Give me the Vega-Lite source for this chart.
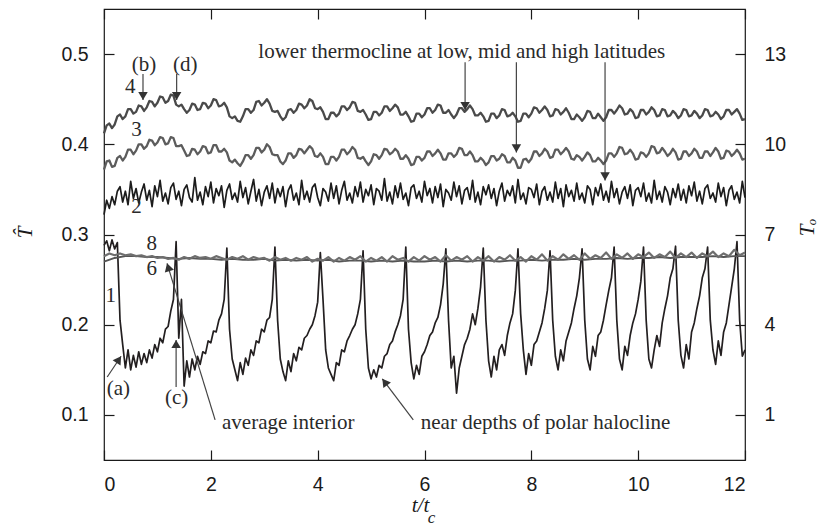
{
"$schema": "https://vega.github.io/schema/vega-lite/v6.json",
"width": 641, "height": 451,
"autosize": {"type": "none"},
"padding": {"left": 104, "top": 9, "right": 80, "bottom": 66},
"background": "white",
"config": {
 "view": {"stroke": "#1a1a1a", "strokeWidth": 1.2},
 "axis": {"grid": false, "domain": false, "tickColor": "#1a1a1a", "tickWidth": 1.2, "labelColor": "#1a1a1a", "labelFont": "Liberation Sans", "labelFontSize": 19.5, "titleColor": "#1a1a1a", "titleFont": "Liberation Serif", "titleFontSize": 21, "titleFontWeight": "normal", "titleFontStyle": "italic"}
},
"datasets": {
 "s1": [{"t":0,"v":0.288},{"t":0.05,"v":0.293},{"t":0.1,"v":0.282},{"t":0.15,"v":0.294},{"t":0.2,"v":0.284},{"t":0.25,"v":0.291},{"t":0.3,"v":0.205},{"t":0.35,"v":0.178},{"t":0.4,"v":0.152},{"t":0.45,"v":0.172},{"t":0.5,"v":0.15},{"t":0.55,"v":0.166},{"t":0.6,"v":0.153},{"t":0.65,"v":0.17},{"t":0.7,"v":0.156},{"t":0.75,"v":0.168},{"t":0.8,"v":0.158},{"t":0.85,"v":0.172},{"t":0.9,"v":0.163},{"t":0.95,"v":0.178},{"t":1,"v":0.17},{"t":1.05,"v":0.185},{"t":1.1,"v":0.18},{"t":1.15,"v":0.195},{"t":1.2,"v":0.198},{"t":1.25,"v":0.215},{"t":1.3,"v":0.228},{"t":1.35,"v":0.292},{"t":1.4,"v":0.185},{"t":1.45,"v":0.228},{"t":1.5,"v":0.132},{"t":1.55,"v":0.16},{"t":1.6,"v":0.142},{"t":1.65,"v":0.162},{"t":1.7,"v":0.15},{"t":1.75,"v":0.165},{"t":1.8,"v":0.156},{"t":1.85,"v":0.17},{"t":1.9,"v":0.168},{"t":1.95,"v":0.182},{"t":2,"v":0.18},{"t":2.05,"v":0.193},{"t":2.1,"v":0.192},{"t":2.15,"v":0.205},{"t":2.2,"v":0.212},{"t":2.25,"v":0.228},{"t":2.3,"v":0.285},{"t":2.35,"v":0.195},{"t":2.4,"v":0.162},{"t":2.45,"v":0.15},{"t":2.5,"v":0.138},{"t":2.55,"v":0.158},{"t":2.6,"v":0.145},{"t":2.65,"v":0.163},{"t":2.7,"v":0.155},{"t":2.75,"v":0.172},{"t":2.8,"v":0.166},{"t":2.85,"v":0.182},{"t":2.9,"v":0.18},{"t":2.95,"v":0.195},{"t":3,"v":0.192},{"t":3.05,"v":0.205},{"t":3.1,"v":0.208},{"t":3.15,"v":0.228},{"t":3.2,"v":0.286},{"t":3.25,"v":0.205},{"t":3.3,"v":0.162},{"t":3.35,"v":0.148},{"t":3.4,"v":0.138},{"t":3.45,"v":0.16},{"t":3.5,"v":0.148},{"t":3.55,"v":0.168},{"t":3.6,"v":0.16},{"t":3.65,"v":0.175},{"t":3.7,"v":0.172},{"t":3.75,"v":0.185},{"t":3.8,"v":0.188},{"t":3.85,"v":0.195},{"t":3.9,"v":0.2},{"t":3.95,"v":0.21},{"t":4,"v":0.225},{"t":4.05,"v":0.28},{"t":4.1,"v":0.228},{"t":4.15,"v":0.172},{"t":4.2,"v":0.152},{"t":4.25,"v":0.145},{"t":4.3,"v":0.138},{"t":4.35,"v":0.158},{"t":4.4,"v":0.155},{"t":4.45,"v":0.172},{"t":4.5,"v":0.17},{"t":4.55,"v":0.182},{"t":4.6,"v":0.188},{"t":4.65,"v":0.195},{"t":4.7,"v":0.2},{"t":4.75,"v":0.212},{"t":4.8,"v":0.228},{"t":4.85,"v":0.282},{"t":4.9,"v":0.195},{"t":4.95,"v":0.152},{"t":5,"v":0.14},{"t":5.05,"v":0.15},{"t":5.1,"v":0.142},{"t":5.15,"v":0.155},{"t":5.2,"v":0.152},{"t":5.25,"v":0.165},{"t":5.3,"v":0.168},{"t":5.35,"v":0.178},{"t":5.4,"v":0.182},{"t":5.45,"v":0.192},{"t":5.5,"v":0.2},{"t":5.55,"v":0.21},{"t":5.6,"v":0.228},{"t":5.65,"v":0.286},{"t":5.7,"v":0.195},{"t":5.75,"v":0.158},{"t":5.8,"v":0.14},{"t":5.85,"v":0.155},{"t":5.9,"v":0.145},{"t":5.95,"v":0.165},{"t":6,"v":0.17},{"t":6.05,"v":0.178},{"t":6.1,"v":0.188},{"t":6.15,"v":0.192},{"t":6.2,"v":0.202},{"t":6.25,"v":0.208},{"t":6.3,"v":0.222},{"t":6.35,"v":0.245},{"t":6.4,"v":0.284},{"t":6.45,"v":0.205},{"t":6.5,"v":0.152},{"t":6.55,"v":0.165},{"t":6.6,"v":0.124},{"t":6.65,"v":0.152},{"t":6.7,"v":0.165},{"t":6.75,"v":0.178},{"t":6.8,"v":0.185},{"t":6.85,"v":0.195},{"t":6.9,"v":0.212},{"t":6.95,"v":0.2},{"t":7,"v":0.218},{"t":7.05,"v":0.242},{"t":7.1,"v":0.285},{"t":7.15,"v":0.205},{"t":7.2,"v":0.16},{"t":7.25,"v":0.142},{"t":7.3,"v":0.165},{"t":7.35,"v":0.15},{"t":7.4,"v":0.172},{"t":7.45,"v":0.178},{"t":7.5,"v":0.166},{"t":7.55,"v":0.188},{"t":7.6,"v":0.202},{"t":7.65,"v":0.212},{"t":7.7,"v":0.238},{"t":7.75,"v":0.284},{"t":7.8,"v":0.212},{"t":7.85,"v":0.172},{"t":7.9,"v":0.145},{"t":7.95,"v":0.168},{"t":8,"v":0.155},{"t":8.05,"v":0.178},{"t":8.1,"v":0.182},{"t":8.15,"v":0.192},{"t":8.2,"v":0.202},{"t":8.25,"v":0.218},{"t":8.3,"v":0.238},{"t":8.35,"v":0.282},{"t":8.4,"v":0.205},{"t":8.45,"v":0.165},{"t":8.5,"v":0.15},{"t":8.55,"v":0.172},{"t":8.6,"v":0.16},{"t":8.65,"v":0.182},{"t":8.7,"v":0.192},{"t":8.75,"v":0.202},{"t":8.8,"v":0.218},{"t":8.85,"v":0.232},{"t":8.9,"v":0.252},{"t":8.95,"v":0.284},{"t":9,"v":0.205},{"t":9.05,"v":0.162},{"t":9.1,"v":0.15},{"t":9.15,"v":0.176},{"t":9.2,"v":0.165},{"t":9.25,"v":0.188},{"t":9.3,"v":0.192},{"t":9.35,"v":0.205},{"t":9.4,"v":0.222},{"t":9.45,"v":0.238},{"t":9.5,"v":0.252},{"t":9.55,"v":0.286},{"t":9.6,"v":0.205},{"t":9.65,"v":0.162},{"t":9.7,"v":0.15},{"t":9.75,"v":0.176},{"t":9.8,"v":0.166},{"t":9.85,"v":0.188},{"t":9.9,"v":0.202},{"t":9.95,"v":0.212},{"t":10,"v":0.228},{"t":10.05,"v":0.248},{"t":10.1,"v":0.286},{"t":10.15,"v":0.205},{"t":10.2,"v":0.162},{"t":10.25,"v":0.152},{"t":10.3,"v":0.172},{"t":10.35,"v":0.188},{"t":10.4,"v":0.176},{"t":10.45,"v":0.202},{"t":10.5,"v":0.218},{"t":10.55,"v":0.232},{"t":10.6,"v":0.252},{"t":10.65,"v":0.262},{"t":10.7,"v":0.287},{"t":10.75,"v":0.205},{"t":10.8,"v":0.166},{"t":10.85,"v":0.152},{"t":10.9,"v":0.178},{"t":10.95,"v":0.162},{"t":11,"v":0.192},{"t":11.05,"v":0.202},{"t":11.1,"v":0.218},{"t":11.15,"v":0.232},{"t":11.2,"v":0.252},{"t":11.25,"v":0.262},{"t":11.3,"v":0.286},{"t":11.35,"v":0.205},{"t":11.4,"v":0.172},{"t":11.45,"v":0.156},{"t":11.5,"v":0.182},{"t":11.55,"v":0.166},{"t":11.6,"v":0.192},{"t":11.65,"v":0.202},{"t":11.7,"v":0.222},{"t":11.75,"v":0.242},{"t":11.8,"v":0.262},{"t":11.85,"v":0.292},{"t":11.9,"v":0.205},{"t":11.95,"v":0.165},{"t":12,"v":0.172}],
 "s2": [{"t":0,"v":0.322},{"t":0.05,"v":0.338},{"t":0.1,"v":0.329},{"t":0.15,"v":0.342},{"t":0.2,"v":0.333},{"t":0.25,"v":0.348},{"t":0.3,"v":0.353},{"t":0.35,"v":0.336},{"t":0.4,"v":0.348},{"t":0.45,"v":0.333},{"t":0.5,"v":0.359},{"t":0.55,"v":0.34},{"t":0.6,"v":0.351},{"t":0.65,"v":0.335},{"t":0.7,"v":0.347},{"t":0.75,"v":0.356},{"t":0.8,"v":0.338},{"t":0.85,"v":0.349},{"t":0.9,"v":0.331},{"t":0.95,"v":0.354},{"t":1,"v":0.342},{"t":1.05,"v":0.36},{"t":1.1,"v":0.337},{"t":1.15,"v":0.346},{"t":1.2,"v":0.334},{"t":1.25,"v":0.352},{"t":1.3,"v":0.357},{"t":1.35,"v":0.339},{"t":1.4,"v":0.348},{"t":1.45,"v":0.332},{"t":1.5,"v":0.35},{"t":1.55,"v":0.355},{"t":1.6,"v":0.341},{"t":1.65,"v":0.336},{"t":1.7,"v":0.363},{"t":1.75,"v":0.338},{"t":1.8,"v":0.347},{"t":1.85,"v":0.333},{"t":1.9,"v":0.353},{"t":1.95,"v":0.342},{"t":2,"v":0.358},{"t":2.05,"v":0.335},{"t":2.1,"v":0.351},{"t":2.15,"v":0.343},{"t":2.2,"v":0.354},{"t":2.25,"v":0.33},{"t":2.3,"v":0.349},{"t":2.35,"v":0.356},{"t":2.4,"v":0.339},{"t":2.45,"v":0.346},{"t":2.5,"v":0.336},{"t":2.55,"v":0.359},{"t":2.6,"v":0.341},{"t":2.65,"v":0.352},{"t":2.7,"v":0.334},{"t":2.75,"v":0.348},{"t":2.8,"v":0.361},{"t":2.85,"v":0.337},{"t":2.9,"v":0.35},{"t":2.95,"v":0.332},{"t":3,"v":0.347},{"t":3.05,"v":0.354},{"t":3.1,"v":0.34},{"t":3.15,"v":0.357},{"t":3.2,"v":0.335},{"t":3.25,"v":0.351},{"t":3.3,"v":0.342},{"t":3.35,"v":0.353},{"t":3.4,"v":0.331},{"t":3.45,"v":0.349},{"t":3.5,"v":0.355},{"t":3.55,"v":0.338},{"t":3.6,"v":0.346},{"t":3.65,"v":0.333},{"t":3.7,"v":0.36},{"t":3.75,"v":0.339},{"t":3.8,"v":0.348},{"t":3.85,"v":0.336},{"t":3.9,"v":0.352},{"t":3.95,"v":0.356},{"t":4,"v":0.341},{"t":4.05,"v":0.332},{"t":4.1,"v":0.351},{"t":4.15,"v":0.347},{"t":4.2,"v":0.337},{"t":4.25,"v":0.357},{"t":4.3,"v":0.34},{"t":4.35,"v":0.354},{"t":4.4,"v":0.334},{"t":4.45,"v":0.349},{"t":4.5,"v":0.359},{"t":4.55,"v":0.338},{"t":4.6,"v":0.346},{"t":4.65,"v":0.335},{"t":4.7,"v":0.353},{"t":4.75,"v":0.342},{"t":4.8,"v":0.358},{"t":4.85,"v":0.336},{"t":4.9,"v":0.35},{"t":4.95,"v":0.343},{"t":5,"v":0.355},{"t":5.05,"v":0.333},{"t":5.1,"v":0.351},{"t":5.15,"v":0.348},{"t":5.2,"v":0.338},{"t":5.25,"v":0.362},{"t":5.3,"v":0.337},{"t":5.35,"v":0.347},{"t":5.4,"v":0.334},{"t":5.45,"v":0.354},{"t":5.5,"v":0.341},{"t":5.55,"v":0.357},{"t":5.6,"v":0.339},{"t":5.65,"v":0.346},{"t":5.7,"v":0.332},{"t":5.75,"v":0.352},{"t":5.8,"v":0.355},{"t":5.85,"v":0.34},{"t":5.9,"v":0.348},{"t":5.95,"v":0.336},{"t":6,"v":0.359},{"t":6.05,"v":0.343},{"t":6.1,"v":0.351},{"t":6.15,"v":0.335},{"t":6.2,"v":0.353},{"t":6.25,"v":0.341},{"t":6.3,"v":0.356},{"t":6.35,"v":0.331},{"t":6.4,"v":0.35},{"t":6.45,"v":0.346},{"t":6.5,"v":0.338},{"t":6.55,"v":0.358},{"t":6.6,"v":0.342},{"t":6.65,"v":0.354},{"t":6.7,"v":0.334},{"t":6.75,"v":0.349},{"t":6.8,"v":0.352},{"t":6.85,"v":0.339},{"t":6.9,"v":0.36},{"t":6.95,"v":0.336},{"t":7,"v":0.347},{"t":7.05,"v":0.333},{"t":7.1,"v":0.353},{"t":7.15,"v":0.344},{"t":7.2,"v":0.355},{"t":7.25,"v":0.34},{"t":7.3,"v":0.351},{"t":7.35,"v":0.332},{"t":7.4,"v":0.348},{"t":7.45,"v":0.357},{"t":7.5,"v":0.337},{"t":7.55,"v":0.349},{"t":7.6,"v":0.343},{"t":7.65,"v":0.354},{"t":7.7,"v":0.335},{"t":7.75,"v":0.361},{"t":7.8,"v":0.339},{"t":7.85,"v":0.346},{"t":7.9,"v":0.334},{"t":7.95,"v":0.352},{"t":8,"v":0.35},{"t":8.05,"v":0.341},{"t":8.1,"v":0.356},{"t":8.15,"v":0.333},{"t":8.2,"v":0.348},{"t":8.25,"v":0.353},{"t":8.3,"v":0.338},{"t":8.35,"v":0.347},{"t":8.4,"v":0.336},{"t":8.45,"v":0.358},{"t":8.5,"v":0.34},{"t":8.55,"v":0.351},{"t":8.6,"v":0.331},{"t":8.65,"v":0.355},{"t":8.7,"v":0.342},{"t":8.75,"v":0.349},{"t":8.8,"v":0.337},{"t":8.85,"v":0.357},{"t":8.9,"v":0.339},{"t":8.95,"v":0.346},{"t":9,"v":0.335},{"t":9.05,"v":0.354},{"t":9.1,"v":0.35},{"t":9.15,"v":0.333},{"t":9.2,"v":0.352},{"t":9.25,"v":0.343},{"t":9.3,"v":0.356},{"t":9.35,"v":0.338},{"t":9.4,"v":0.348},{"t":9.45,"v":0.336},{"t":9.5,"v":0.359},{"t":9.55,"v":0.341},{"t":9.6,"v":0.351},{"t":9.65,"v":0.334},{"t":9.7,"v":0.347},{"t":9.75,"v":0.353},{"t":9.8,"v":0.34},{"t":9.85,"v":0.355},{"t":9.9,"v":0.332},{"t":9.95,"v":0.349},{"t":10,"v":0.352},{"t":10.05,"v":0.342},{"t":10.1,"v":0.357},{"t":10.15,"v":0.337},{"t":10.2,"v":0.346},{"t":10.25,"v":0.335},{"t":10.3,"v":0.36},{"t":10.35,"v":0.339},{"t":10.4,"v":0.348},{"t":10.45,"v":0.336},{"t":10.5,"v":0.353},{"t":10.55,"v":0.347},{"t":10.6,"v":0.333},{"t":10.65,"v":0.351},{"t":10.7,"v":0.341},{"t":10.75,"v":0.356},{"t":10.8,"v":0.338},{"t":10.85,"v":0.35},{"t":10.9,"v":0.335},{"t":10.95,"v":0.354},{"t":11,"v":0.343},{"t":11.05,"v":0.358},{"t":11.1,"v":0.337},{"t":11.15,"v":0.348},{"t":11.2,"v":0.334},{"t":11.25,"v":0.351},{"t":11.3,"v":0.355},{"t":11.35,"v":0.34},{"t":11.4,"v":0.346},{"t":11.45,"v":0.336},{"t":11.5,"v":0.357},{"t":11.55,"v":0.342},{"t":11.6,"v":0.352},{"t":11.65,"v":0.332},{"t":11.7,"v":0.349},{"t":11.75,"v":0.354},{"t":11.8,"v":0.339},{"t":11.85,"v":0.347},{"t":11.9,"v":0.335},{"t":11.95,"v":0.359},{"t":12,"v":0.341}],
 "s3": [{"t":0,"v":0.372},{"t":0.05,"v":0.381},{"t":0.1,"v":0.382},{"t":0.15,"v":0.375},{"t":0.2,"v":0.376},{"t":0.25,"v":0.385},{"t":0.3,"v":0.387},{"t":0.35,"v":0.382},{"t":0.4,"v":0.386},{"t":0.45,"v":0.394},{"t":0.5,"v":0.394},{"t":0.55,"v":0.389},{"t":0.6,"v":0.393},{"t":0.65,"v":0.4},{"t":0.7,"v":0.4},{"t":0.75,"v":0.395},{"t":0.8,"v":0.398},{"t":0.85,"v":0.405},{"t":0.9,"v":0.404},{"t":0.95,"v":0.399},{"t":1,"v":0.402},{"t":1.05,"v":0.408},{"t":1.1,"v":0.407},{"t":1.15,"v":0.4},{"t":1.2,"v":0.401},{"t":1.25,"v":0.408},{"t":1.3,"v":0.407},{"t":1.35,"v":0.398},{"t":1.4,"v":0.398},{"t":1.45,"v":0.399},{"t":1.5,"v":0.393},{"t":1.55,"v":0.387},{"t":1.6,"v":0.388},{"t":1.65,"v":0.395},{"t":1.7,"v":0.394},{"t":1.75,"v":0.389},{"t":1.8,"v":0.392},{"t":1.85,"v":0.398},{"t":1.9,"v":0.397},{"t":1.95,"v":0.39},{"t":2,"v":0.391},{"t":2.05,"v":0.399},{"t":2.1,"v":0.399},{"t":2.15,"v":0.392},{"t":2.2,"v":0.392},{"t":2.25,"v":0.395},{"t":2.3,"v":0.391},{"t":2.35,"v":0.382},{"t":2.4,"v":0.38},{"t":2.45,"v":0.383},{"t":2.5,"v":0.379},{"t":2.55,"v":0.376},{"t":2.6,"v":0.381},{"t":2.65,"v":0.388},{"t":2.7,"v":0.388},{"t":2.75,"v":0.384},{"t":2.8,"v":0.388},{"t":2.85,"v":0.396},{"t":2.9,"v":0.396},{"t":2.95,"v":0.391},{"t":3,"v":0.394},{"t":3.05,"v":0.4},{"t":3.1,"v":0.397},{"t":3.15,"v":0.389},{"t":3.2,"v":0.388},{"t":3.25,"v":0.388},{"t":3.3,"v":0.381},{"t":3.35,"v":0.378},{"t":3.4,"v":0.382},{"t":3.45,"v":0.39},{"t":3.5,"v":0.39},{"t":3.55,"v":0.385},{"t":3.6,"v":0.388},{"t":3.65,"v":0.395},{"t":3.7,"v":0.394},{"t":3.75,"v":0.39},{"t":3.8,"v":0.394},{"t":3.85,"v":0.398},{"t":3.9,"v":0.395},{"t":3.95,"v":0.387},{"t":4,"v":0.386},{"t":4.05,"v":0.39},{"t":4.1,"v":0.386},{"t":4.15,"v":0.378},{"t":4.2,"v":0.378},{"t":4.25,"v":0.386},{"t":4.3,"v":0.386},{"t":4.35,"v":0.382},{"t":4.4,"v":0.386},{"t":4.45,"v":0.394},{"t":4.5,"v":0.394},{"t":4.55,"v":0.389},{"t":4.6,"v":0.392},{"t":4.65,"v":0.397},{"t":4.7,"v":0.394},{"t":4.75,"v":0.385},{"t":4.8,"v":0.384},{"t":4.85,"v":0.386},{"t":4.9,"v":0.381},{"t":4.95,"v":0.377},{"t":5,"v":0.381},{"t":5.05,"v":0.389},{"t":5.1,"v":0.388},{"t":5.15,"v":0.384},{"t":5.2,"v":0.388},{"t":5.25,"v":0.395},{"t":5.3,"v":0.394},{"t":5.35,"v":0.389},{"t":5.4,"v":0.391},{"t":5.45,"v":0.395},{"t":5.5,"v":0.392},{"t":5.55,"v":0.384},{"t":5.6,"v":0.384},{"t":5.65,"v":0.388},{"t":5.7,"v":0.384},{"t":5.75,"v":0.377},{"t":5.8,"v":0.378},{"t":5.85,"v":0.386},{"t":5.9,"v":0.386},{"t":5.95,"v":0.382},{"t":6,"v":0.385},{"t":6.05,"v":0.392},{"t":6.1,"v":0.392},{"t":6.15,"v":0.387},{"t":6.2,"v":0.39},{"t":6.25,"v":0.394},{"t":6.3,"v":0.39},{"t":6.35,"v":0.383},{"t":6.4,"v":0.383},{"t":6.45,"v":0.39},{"t":6.5,"v":0.39},{"t":6.55,"v":0.386},{"t":6.6,"v":0.389},{"t":6.65,"v":0.396},{"t":6.7,"v":0.395},{"t":6.75,"v":0.388},{"t":6.8,"v":0.388},{"t":6.85,"v":0.392},{"t":6.9,"v":0.388},{"t":6.95,"v":0.381},{"t":7,"v":0.381},{"t":7.05,"v":0.385},{"t":7.1,"v":0.382},{"t":7.15,"v":0.377},{"t":7.2,"v":0.38},{"t":7.25,"v":0.387},{"t":7.3,"v":0.387},{"t":7.35,"v":0.382},{"t":7.4,"v":0.384},{"t":7.45,"v":0.389},{"t":7.5,"v":0.387},{"t":7.55,"v":0.38},{"t":7.6,"v":0.38},{"t":7.65,"v":0.385},{"t":7.7,"v":0.382},{"t":7.75,"v":0.374},{"t":7.8,"v":0.374},{"t":7.85,"v":0.383},{"t":7.9,"v":0.384},{"t":7.95,"v":0.38},{"t":8,"v":0.384},{"t":8.05,"v":0.392},{"t":8.1,"v":0.392},{"t":8.15,"v":0.387},{"t":8.2,"v":0.39},{"t":8.25,"v":0.395},{"t":8.3,"v":0.392},{"t":8.35,"v":0.385},{"t":8.4,"v":0.386},{"t":8.45,"v":0.394},{"t":8.5,"v":0.394},{"t":8.55,"v":0.389},{"t":8.6,"v":0.392},{"t":8.65,"v":0.396},{"t":8.7,"v":0.392},{"t":8.75,"v":0.384},{"t":8.8,"v":0.383},{"t":8.85,"v":0.388},{"t":8.9,"v":0.386},{"t":8.95,"v":0.382},{"t":9,"v":0.386},{"t":9.05,"v":0.391},{"t":9.1,"v":0.388},{"t":9.15,"v":0.381},{"t":9.2,"v":0.381},{"t":9.25,"v":0.385},{"t":9.3,"v":0.382},{"t":9.35,"v":0.378},{"t":9.4,"v":0.382},{"t":9.45,"v":0.39},{"t":9.5,"v":0.39},{"t":9.55,"v":0.386},{"t":9.6,"v":0.39},{"t":9.65,"v":0.397},{"t":9.7,"v":0.396},{"t":9.75,"v":0.389},{"t":9.8,"v":0.39},{"t":9.85,"v":0.394},{"t":9.9,"v":0.39},{"t":9.95,"v":0.383},{"t":10,"v":0.384},{"t":10.05,"v":0.391},{"t":10.1,"v":0.39},{"t":10.15,"v":0.386},{"t":10.2,"v":0.39},{"t":10.25,"v":0.398},{"t":10.3,"v":0.397},{"t":10.35,"v":0.39},{"t":10.4,"v":0.391},{"t":10.45,"v":0.396},{"t":10.5,"v":0.392},{"t":10.55,"v":0.387},{"t":10.6,"v":0.39},{"t":10.65,"v":0.395},{"t":10.7,"v":0.391},{"t":10.75,"v":0.383},{"t":10.8,"v":0.384},{"t":10.85,"v":0.392},{"t":10.9,"v":0.392},{"t":10.95,"v":0.387},{"t":11,"v":0.39},{"t":11.05,"v":0.395},{"t":11.1,"v":0.392},{"t":11.15,"v":0.385},{"t":11.2,"v":0.385},{"t":11.25,"v":0.392},{"t":11.3,"v":0.392},{"t":11.35,"v":0.387},{"t":11.4,"v":0.391},{"t":11.45,"v":0.396},{"t":11.5,"v":0.392},{"t":11.55,"v":0.384},{"t":11.6,"v":0.385},{"t":11.65,"v":0.393},{"t":11.7,"v":0.392},{"t":11.75,"v":0.387},{"t":11.8,"v":0.39},{"t":11.85,"v":0.394},{"t":11.9,"v":0.39},{"t":11.95,"v":0.383},{"t":12,"v":0.384}],
 "s4": [{"t":0,"v":0.412},{"t":0.05,"v":0.421},{"t":0.1,"v":0.423},{"t":0.15,"v":0.418},{"t":0.2,"v":0.422},{"t":0.25,"v":0.431},{"t":0.3,"v":0.433},{"t":0.35,"v":0.428},{"t":0.4,"v":0.431},{"t":0.45,"v":0.439},{"t":0.5,"v":0.439},{"t":0.55,"v":0.434},{"t":0.6,"v":0.436},{"t":0.65,"v":0.443},{"t":0.7,"v":0.442},{"t":0.75,"v":0.437},{"t":0.8,"v":0.441},{"t":0.85,"v":0.448},{"t":0.9,"v":0.447},{"t":0.95,"v":0.442},{"t":1,"v":0.446},{"t":1.05,"v":0.453},{"t":1.1,"v":0.452},{"t":1.15,"v":0.446},{"t":1.2,"v":0.448},{"t":1.25,"v":0.455},{"t":1.3,"v":0.454},{"t":1.35,"v":0.444},{"t":1.4,"v":0.442},{"t":1.45,"v":0.444},{"t":1.5,"v":0.439},{"t":1.55,"v":0.435},{"t":1.6,"v":0.438},{"t":1.65,"v":0.445},{"t":1.7,"v":0.444},{"t":1.75,"v":0.438},{"t":1.8,"v":0.439},{"t":1.85,"v":0.446},{"t":1.9,"v":0.445},{"t":1.95,"v":0.44},{"t":2,"v":0.443},{"t":2.05,"v":0.45},{"t":2.1,"v":0.449},{"t":2.15,"v":0.442},{"t":2.2,"v":0.443},{"t":2.25,"v":0.446},{"t":2.3,"v":0.441},{"t":2.35,"v":0.431},{"t":2.4,"v":0.429},{"t":2.45,"v":0.431},{"t":2.5,"v":0.426},{"t":2.55,"v":0.425},{"t":2.6,"v":0.431},{"t":2.65,"v":0.439},{"t":2.7,"v":0.439},{"t":2.75,"v":0.435},{"t":2.8,"v":0.438},{"t":2.85,"v":0.447},{"t":2.9,"v":0.448},{"t":2.95,"v":0.443},{"t":3,"v":0.446},{"t":3.05,"v":0.45},{"t":3.1,"v":0.445},{"t":3.15,"v":0.437},{"t":3.2,"v":0.436},{"t":3.25,"v":0.437},{"t":3.3,"v":0.431},{"t":3.35,"v":0.427},{"t":3.4,"v":0.43},{"t":3.45,"v":0.438},{"t":3.5,"v":0.439},{"t":3.55,"v":0.435},{"t":3.6,"v":0.438},{"t":3.65,"v":0.445},{"t":3.7,"v":0.444},{"t":3.75,"v":0.44},{"t":3.8,"v":0.443},{"t":3.85,"v":0.45},{"t":3.9,"v":0.448},{"t":3.95,"v":0.44},{"t":4,"v":0.439},{"t":4.05,"v":0.441},{"t":4.1,"v":0.436},{"t":4.15,"v":0.428},{"t":4.2,"v":0.428},{"t":4.25,"v":0.435},{"t":4.3,"v":0.435},{"t":4.35,"v":0.431},{"t":4.4,"v":0.434},{"t":4.45,"v":0.442},{"t":4.5,"v":0.442},{"t":4.55,"v":0.438},{"t":4.6,"v":0.441},{"t":4.65,"v":0.447},{"t":4.7,"v":0.446},{"t":4.75,"v":0.437},{"t":4.8,"v":0.436},{"t":4.85,"v":0.438},{"t":4.9,"v":0.433},{"t":4.95,"v":0.427},{"t":5,"v":0.428},{"t":5.05,"v":0.436},{"t":5.1,"v":0.436},{"t":5.15,"v":0.432},{"t":5.2,"v":0.435},{"t":5.25,"v":0.442},{"t":5.3,"v":0.442},{"t":5.35,"v":0.437},{"t":5.4,"v":0.44},{"t":5.45,"v":0.444},{"t":5.5,"v":0.441},{"t":5.55,"v":0.433},{"t":5.6,"v":0.433},{"t":5.65,"v":0.436},{"t":5.7,"v":0.431},{"t":5.75,"v":0.425},{"t":5.8,"v":0.426},{"t":5.85,"v":0.434},{"t":5.9,"v":0.434},{"t":5.95,"v":0.43},{"t":6,"v":0.433},{"t":6.05,"v":0.44},{"t":6.1,"v":0.44},{"t":6.15,"v":0.435},{"t":6.2,"v":0.438},{"t":6.25,"v":0.444},{"t":6.3,"v":0.443},{"t":6.35,"v":0.435},{"t":6.4,"v":0.435},{"t":6.45,"v":0.438},{"t":6.5,"v":0.433},{"t":6.55,"v":0.429},{"t":6.6,"v":0.433},{"t":6.65,"v":0.44},{"t":6.7,"v":0.44},{"t":6.75,"v":0.436},{"t":6.8,"v":0.439},{"t":6.85,"v":0.443},{"t":6.9,"v":0.439},{"t":6.95,"v":0.432},{"t":7,"v":0.432},{"t":7.05,"v":0.435},{"t":7.1,"v":0.431},{"t":7.15,"v":0.425},{"t":7.2,"v":0.426},{"t":7.25,"v":0.434},{"t":7.3,"v":0.434},{"t":7.35,"v":0.429},{"t":7.4,"v":0.432},{"t":7.45,"v":0.439},{"t":7.5,"v":0.438},{"t":7.55,"v":0.431},{"t":7.6,"v":0.432},{"t":7.65,"v":0.435},{"t":7.7,"v":0.431},{"t":7.75,"v":0.425},{"t":7.8,"v":0.426},{"t":7.85,"v":0.434},{"t":7.9,"v":0.434},{"t":7.95,"v":0.43},{"t":8,"v":0.434},{"t":8.05,"v":0.441},{"t":8.1,"v":0.44},{"t":8.15,"v":0.435},{"t":8.2,"v":0.438},{"t":8.25,"v":0.442},{"t":8.3,"v":0.438},{"t":8.35,"v":0.431},{"t":8.4,"v":0.432},{"t":8.45,"v":0.439},{"t":8.5,"v":0.438},{"t":8.55,"v":0.433},{"t":8.6,"v":0.436},{"t":8.65,"v":0.44},{"t":8.7,"v":0.435},{"t":8.75,"v":0.428},{"t":8.8,"v":0.428},{"t":8.85,"v":0.433},{"t":8.9,"v":0.43},{"t":8.95,"v":0.426},{"t":9,"v":0.43},{"t":9.05,"v":0.437},{"t":9.1,"v":0.436},{"t":9.15,"v":0.429},{"t":9.2,"v":0.429},{"t":9.25,"v":0.434},{"t":9.3,"v":0.43},{"t":9.35,"v":0.426},{"t":9.4,"v":0.43},{"t":9.45,"v":0.438},{"t":9.5,"v":0.438},{"t":9.55,"v":0.434},{"t":9.6,"v":0.438},{"t":9.65,"v":0.443},{"t":9.7,"v":0.44},{"t":9.75,"v":0.433},{"t":9.8,"v":0.434},{"t":9.85,"v":0.439},{"t":9.9,"v":0.436},{"t":9.95,"v":0.429},{"t":10,"v":0.43},{"t":10.05,"v":0.438},{"t":10.1,"v":0.438},{"t":10.15,"v":0.433},{"t":10.2,"v":0.436},{"t":10.25,"v":0.441},{"t":10.3,"v":0.438},{"t":10.35,"v":0.431},{"t":10.4,"v":0.432},{"t":10.45,"v":0.439},{"t":10.5,"v":0.438},{"t":10.55,"v":0.431},{"t":10.6,"v":0.432},{"t":10.65,"v":0.437},{"t":10.7,"v":0.434},{"t":10.75,"v":0.429},{"t":10.8,"v":0.432},{"t":10.85,"v":0.439},{"t":10.9,"v":0.438},{"t":10.95,"v":0.431},{"t":11,"v":0.432},{"t":11.05,"v":0.437},{"t":11.1,"v":0.434},{"t":11.15,"v":0.429},{"t":11.2,"v":0.432},{"t":11.25,"v":0.439},{"t":11.3,"v":0.438},{"t":11.35,"v":0.431},{"t":11.4,"v":0.432},{"t":11.45,"v":0.436},{"t":11.5,"v":0.433},{"t":11.55,"v":0.428},{"t":11.6,"v":0.431},{"t":11.65,"v":0.438},{"t":11.7,"v":0.438},{"t":11.75,"v":0.433},{"t":11.8,"v":0.436},{"t":11.85,"v":0.439},{"t":11.9,"v":0.434},{"t":11.95,"v":0.427},{"t":12,"v":0.428}],
 "s6": [{"t":0,"v":0.27},{"t":0.2,"v":0.274},{"t":0.4,"v":0.276},{"t":0.6,"v":0.276},{"t":0.8,"v":0.275},{"t":1,"v":0.275},{"t":1.2,"v":0.274},{"t":1.4,"v":0.273},{"t":1.6,"v":0.274},{"t":1.8,"v":0.273},{"t":2,"v":0.273},{"t":2.2,"v":0.272},{"t":2.4,"v":0.273},{"t":2.6,"v":0.272},{"t":2.8,"v":0.272},{"t":3,"v":0.273},{"t":3.2,"v":0.271},{"t":3.4,"v":0.272},{"t":3.6,"v":0.271},{"t":3.8,"v":0.272},{"t":4,"v":0.271},{"t":4.2,"v":0.272},{"t":4.4,"v":0.27},{"t":4.6,"v":0.271},{"t":4.8,"v":0.271},{"t":5,"v":0.27},{"t":5.2,"v":0.271},{"t":5.4,"v":0.27},{"t":5.6,"v":0.271},{"t":5.8,"v":0.27},{"t":6,"v":0.27},{"t":6.2,"v":0.271},{"t":6.4,"v":0.27},{"t":6.6,"v":0.271},{"t":6.8,"v":0.27},{"t":7,"v":0.271},{"t":7.2,"v":0.271},{"t":7.4,"v":0.27},{"t":7.6,"v":0.271},{"t":7.8,"v":0.271},{"t":8,"v":0.272},{"t":8.2,"v":0.271},{"t":8.4,"v":0.272},{"t":8.6,"v":0.272},{"t":8.8,"v":0.273},{"t":9,"v":0.272},{"t":9.2,"v":0.273},{"t":9.4,"v":0.273},{"t":9.6,"v":0.274},{"t":9.8,"v":0.273},{"t":10,"v":0.274},{"t":10.2,"v":0.274},{"t":10.4,"v":0.275},{"t":10.6,"v":0.274},{"t":10.8,"v":0.275},{"t":11,"v":0.275},{"t":11.2,"v":0.275},{"t":11.4,"v":0.276},{"t":11.6,"v":0.275},{"t":11.8,"v":0.276},{"t":12,"v":0.276}],
 "s8": [{"t":0,"v":0.276},{"t":0.1,"v":0.279},{"t":0.2,"v":0.277},{"t":0.3,"v":0.279},{"t":0.4,"v":0.277},{"t":0.5,"v":0.278},{"t":0.6,"v":0.276},{"t":0.7,"v":0.277},{"t":0.8,"v":0.275},{"t":0.9,"v":0.276},{"t":1,"v":0.274},{"t":1.1,"v":0.275},{"t":1.2,"v":0.273},{"t":1.3,"v":0.274},{"t":1.4,"v":0.272},{"t":1.5,"v":0.275},{"t":1.6,"v":0.273},{"t":1.7,"v":0.276},{"t":1.8,"v":0.274},{"t":1.9,"v":0.275},{"t":2,"v":0.273},{"t":2.1,"v":0.276},{"t":2.2,"v":0.274},{"t":2.3,"v":0.272},{"t":2.4,"v":0.275},{"t":2.5,"v":0.273},{"t":2.6,"v":0.276},{"t":2.7,"v":0.272},{"t":2.8,"v":0.275},{"t":2.9,"v":0.273},{"t":3,"v":0.274},{"t":3.1,"v":0.271},{"t":3.2,"v":0.275},{"t":3.3,"v":0.272},{"t":3.4,"v":0.274},{"t":3.5,"v":0.271},{"t":3.6,"v":0.274},{"t":3.7,"v":0.272},{"t":3.8,"v":0.275},{"t":3.9,"v":0.27},{"t":4,"v":0.273},{"t":4.1,"v":0.271},{"t":4.2,"v":0.275},{"t":4.3,"v":0.27},{"t":4.4,"v":0.274},{"t":4.5,"v":0.271},{"t":4.6,"v":0.275},{"t":4.7,"v":0.272},{"t":4.8,"v":0.276},{"t":4.9,"v":0.27},{"t":5,"v":0.274},{"t":5.1,"v":0.271},{"t":5.2,"v":0.275},{"t":5.3,"v":0.27},{"t":5.4,"v":0.276},{"t":5.5,"v":0.272},{"t":5.6,"v":0.274},{"t":5.7,"v":0.27},{"t":5.8,"v":0.275},{"t":5.9,"v":0.271},{"t":6,"v":0.276},{"t":6.1,"v":0.272},{"t":6.2,"v":0.275},{"t":6.3,"v":0.27},{"t":6.4,"v":0.277},{"t":6.5,"v":0.271},{"t":6.6,"v":0.275},{"t":6.7,"v":0.272},{"t":6.8,"v":0.276},{"t":6.9,"v":0.27},{"t":7,"v":0.275},{"t":7.1,"v":0.271},{"t":7.2,"v":0.276},{"t":7.3,"v":0.27},{"t":7.4,"v":0.275},{"t":7.5,"v":0.272},{"t":7.6,"v":0.277},{"t":7.7,"v":0.271},{"t":7.8,"v":0.275},{"t":7.9,"v":0.27},{"t":8,"v":0.276},{"t":8.1,"v":0.272},{"t":8.2,"v":0.278},{"t":8.3,"v":0.271},{"t":8.4,"v":0.276},{"t":8.5,"v":0.272},{"t":8.6,"v":0.278},{"t":8.7,"v":0.273},{"t":8.8,"v":0.277},{"t":8.9,"v":0.272},{"t":9,"v":0.279},{"t":9.1,"v":0.273},{"t":9.2,"v":0.277},{"t":9.3,"v":0.274},{"t":9.4,"v":0.28},{"t":9.5,"v":0.273},{"t":9.6,"v":0.278},{"t":9.7,"v":0.274},{"t":9.8,"v":0.279},{"t":9.9,"v":0.273},{"t":10,"v":0.278},{"t":10.1,"v":0.275},{"t":10.2,"v":0.28},{"t":10.3,"v":0.274},{"t":10.4,"v":0.278},{"t":10.5,"v":0.275},{"t":10.6,"v":0.281},{"t":10.7,"v":0.274},{"t":10.8,"v":0.279},{"t":10.9,"v":0.275},{"t":11,"v":0.28},{"t":11.1,"v":0.274},{"t":11.2,"v":0.279},{"t":11.3,"v":0.276},{"t":11.4,"v":0.281},{"t":11.5,"v":0.275},{"t":11.6,"v":0.279},{"t":11.7,"v":0.276},{"t":11.8,"v":0.283},{"t":11.9,"v":0.277},{"t":12,"v":0.28}],
 "arrows": [
  {"g":"down","t":0.73,"v":0.478,"t2":0.73,"v2":0.449},
  {"g":"down","t":1.36,"v":0.478,"t2":1.36,"v2":0.449},
  {"g":"down","t":6.76,"v":0.491,"t2":6.76,"v2":0.438},
  {"g":"down","t":7.72,"v":0.491,"t2":7.72,"v2":0.391},
  {"g":"down","t":9.38,"v":0.491,"t2":9.38,"v2":0.36},
  {"g":"c","t":1.35,"v":0.131,"t2":1.35,"v2":0.183},
  {"g":"a","t":0.06,"v":0.142,"t2":0.32,"v2":0.165},
  {"g":"avg","t":2.08,"v":0.0945,"t2":1.18,"v2":0.268},
  {"g":"near","t":5.79,"v":0.0945,"t2":5.21,"v2":0.14}
 ],
 "labels": [
  {"t":0.49,"v":0.463,"label":"4"},{"t":0.61,"v":0.416,"label":"3"},{"t":0.61,"v":0.33,"label":"2"},
  {"t":0.895,"v":0.29,"label":"8"},{"t":0.895,"v":0.2614,"label":"6"},{"t":0.127,"v":0.232,"label":"1"},
  {"t":0.75,"v":0.488,"label":"(b)"},{"t":1.52,"v":0.488,"label":"(d)"},
  {"t":0.27,"v":0.1285,"label":"(a)"},{"t":1.36,"v":0.1185,"label":"(c)"}
 ],
 "notes": [
  {"t":2.89,"v":0.502,"label":"lower thermocline at low, mid and high latitudes"},
  {"t":2.21,"v":0.091,"label":"average interior"},
  {"t":5.93,"v":0.091,"label":"near depths of polar halocline"}
 ],
 "sub": [{"t":6.13,"v":-0.014,"label":"c"}],
 "ax": [{"t":0,"T":1}]
},
"resolve": {"scale": {"x": "independent", "y": "independent"}, "axis": {"x": "independent", "y": "independent"}},
"layer": [
 {
  "encoding": {
   "x": {"field": "t", "type": "quantitative", "scale": {"domain": [0, 12]}, "axis": {"orient": "bottom", "values": [0,2,4,6,8,10,12], "format": "d", "tickSize": -10, "labelPadding": 25, "title": "t/t", "titleX": 316, "titleY": 45, "titleAlign": "center", "titleBaseline": "middle"}},
   "y": {"field": "v", "type": "quantitative", "scale": {"domain": [0.05, 0.55]}, "axis": {"orient": "left", "values": [0.1,0.2,0.3,0.4,0.5], "format": ".1f", "tickSize": -10, "labelPadding": 26, "title": "T̂", "titleAngle": 270, "titleX": -79, "titleY": 223, "titleAlign": "center", "titleBaseline": "middle"}}
  },
  "layer": [
   {"data": {"name": "s4"}, "mark": {"type": "line", "color": "#4a4a4a", "strokeWidth": 2.3, "strokeJoin": "round"}},
   {"data": {"name": "s3"}, "mark": {"type": "line", "color": "#5c5c5c", "strokeWidth": 2.3, "strokeJoin": "round"}},
   {"data": {"name": "s2"}, "mark": {"type": "line", "color": "#1c1c1c", "strokeWidth": 1.7, "strokeJoin": "round"}},
   {"data": {"name": "s1"}, "mark": {"type": "line", "color": "#231f20", "strokeWidth": 1.7, "strokeJoin": "round"}},
   {"data": {"name": "s6"}, "mark": {"type": "line", "color": "#555555", "strokeWidth": 1.9, "strokeJoin": "round"}},
   {"data": {"name": "s8"}, "mark": {"type": "line", "color": "#6e6e6e", "strokeWidth": 2.2, "strokeJoin": "round"}},
   {"data": {"name": "arrows"}, "mark": {"type": "rule", "color": "#444444", "strokeWidth": 1.2},
    "encoding": {"x2": {"field": "t2"}, "y2": {"field": "v2"}}},
   {"data": {"name": "arrows"}, "transform": [{"filter": "datum.g == 'down'"}], "mark": {"type": "point", "shape": "M0,0L1,1.7L-1,1.7Z", "filled": true, "color": "#333333", "size": 90, "opacity": 1, "angle": 180},
    "encoding": {"x": {"field": "t2", "type": "quantitative"}, "y": {"field": "v2", "type": "quantitative"}}},
   {"data": {"name": "arrows"}, "transform": [{"filter": "datum.g == 'c'"}], "mark": {"type": "point", "shape": "M0,0L1,1.7L-1,1.7Z", "filled": true, "color": "#333333", "size": 90, "opacity": 1, "angle": 0},
    "encoding": {"x": {"field": "t2", "type": "quantitative"}, "y": {"field": "v2", "type": "quantitative"}}},
   {"data": {"name": "arrows"}, "transform": [{"filter": "datum.g == 'a'"}], "mark": {"type": "point", "shape": "M0,0L1,1.7L-1,1.7Z", "filled": true, "color": "#333333", "size": 90, "opacity": 1, "angle": 34},
    "encoding": {"x": {"field": "t2", "type": "quantitative"}, "y": {"field": "v2", "type": "quantitative"}}},
   {"data": {"name": "arrows"}, "transform": [{"filter": "datum.g == 'avg'"}], "mark": {"type": "point", "shape": "M0,0L1,1.7L-1,1.7Z", "filled": true, "color": "#333333", "size": 90, "opacity": 1, "angle": 343},
    "encoding": {"x": {"field": "t2", "type": "quantitative"}, "y": {"field": "v2", "type": "quantitative"}}},
   {"data": {"name": "arrows"}, "transform": [{"filter": "datum.g == 'near'"}], "mark": {"type": "point", "shape": "M0,0L1,1.7L-1,1.7Z", "filled": true, "color": "#333333", "size": 90, "opacity": 1, "angle": 323},
    "encoding": {"x": {"field": "t2", "type": "quantitative"}, "y": {"field": "v2", "type": "quantitative"}}},
   {"data": {"name": "labels"}, "mark": {"type": "text", "font": "Liberation Serif", "fontSize": 21, "color": "#2a2a2a", "align": "center", "baseline": "middle"},
    "encoding": {"text": {"field": "label"}}},
   {"data": {"name": "notes"}, "mark": {"type": "text", "font": "Liberation Serif", "fontSize": 21, "color": "#2a2a2a", "align": "left", "baseline": "middle"},
    "encoding": {"text": {"field": "label"}}},
   {"data": {"name": "sub"}, "mark": {"type": "text", "font": "Liberation Serif", "fontStyle": "italic", "fontSize": 17, "color": "#1a1a1a", "align": "center", "baseline": "middle"},
    "encoding": {"text": {"field": "label"}}}
  ]
 },
 {
  "data": {"name": "ax"},
  "mark": {"type": "point", "opacity": 0},
  "encoding": {
   "x": {"field": "t", "type": "quantitative", "scale": {"domain": [0, 12]}, "axis": {"orient": "top", "values": [0,2,4,6,8,10,12], "labels": false, "tickSize": -10, "title": null}},
   "y": {"field": "T", "type": "quantitative", "scale": {"domain": [-0.5, 14.5]}, "axis": {"orient": "right", "values": [1,4,7,10,13], "format": "d", "tickSize": -10, "labelPadding": 29, "title": "Tₒ", "titleAngle": 270, "titleX": 62, "titleY": 218, "titleAlign": "center", "titleBaseline": "middle"}}
  }
 }
]
}
